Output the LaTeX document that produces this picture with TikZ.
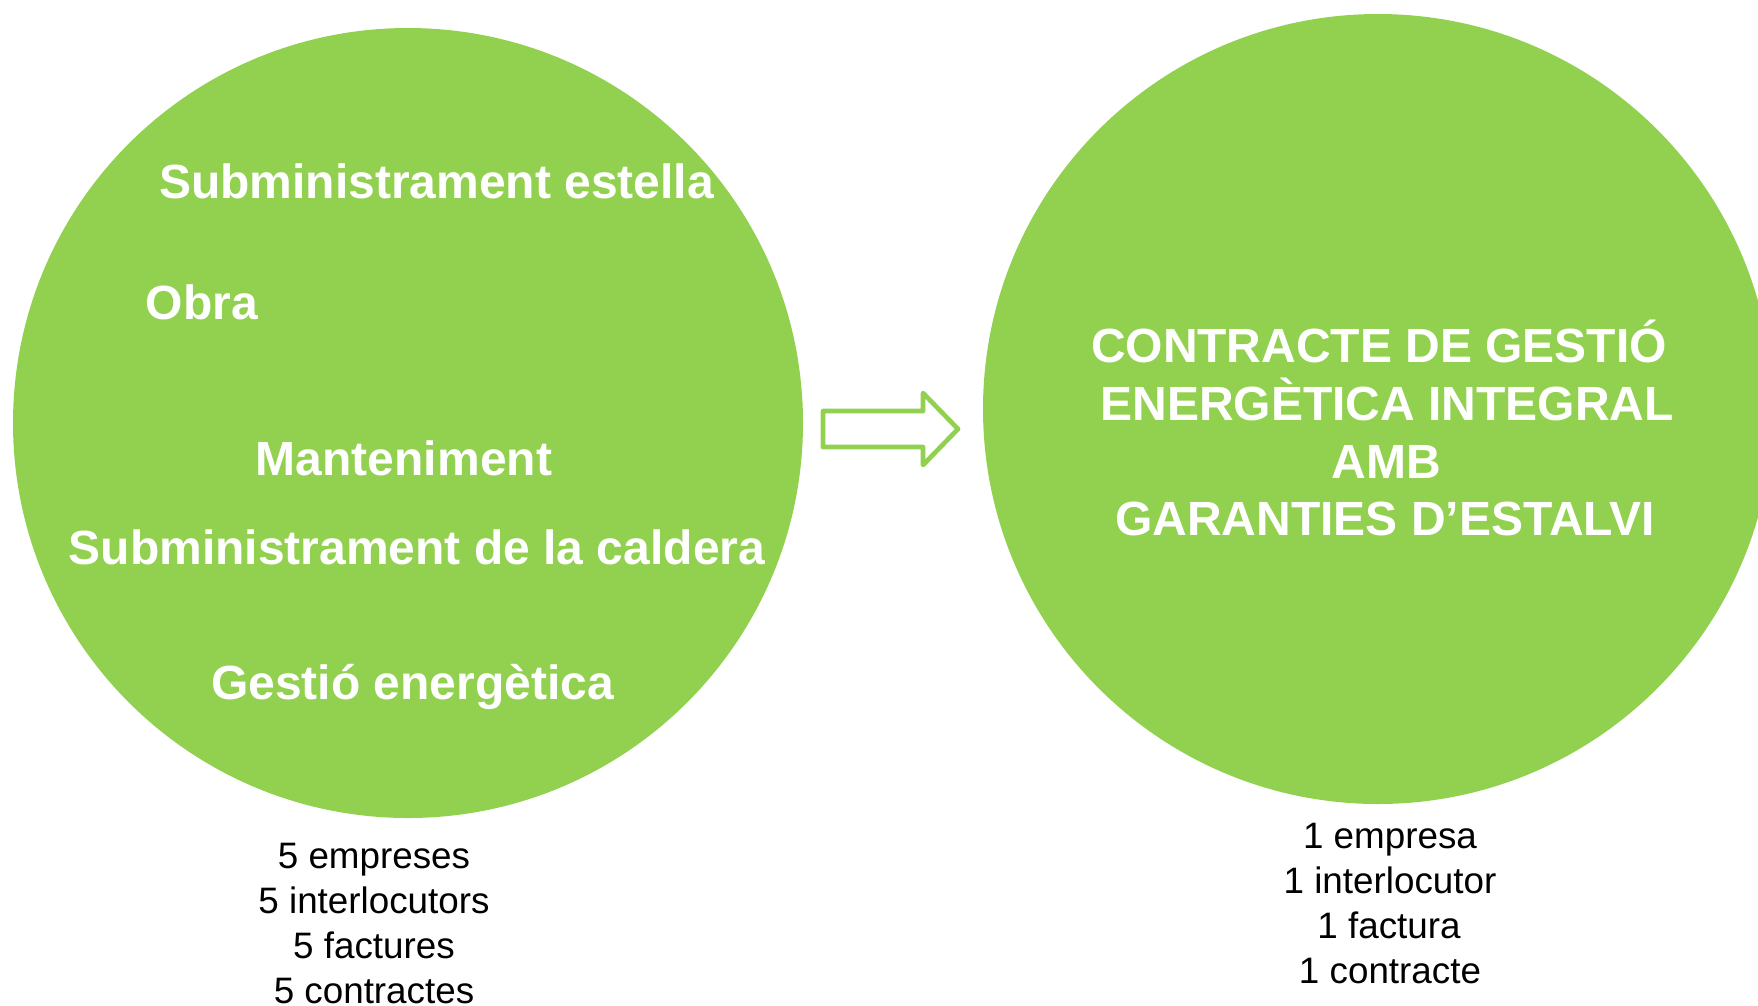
\documentclass[tikz,border=0pt]{standalone}
\usepackage{fontspec}
\setmainfont{Liberation Sans}
\definecolor{lgreen}{HTML}{92D050}
\begin{document}
\begin{tikzpicture}[x=1pt,y=-1pt,
  big/.style={font=\bfseries\fontsize{48}{57.6}\selectfont, text=white, inner sep=0pt, anchor=base},
  small/.style={font=\fontsize{36.8}{45}\selectfont, text=black, inner sep=0pt, anchor=base},
  bubble/.style={circle, fill=lgreen, draw=none, minimum size=790pt, inner sep=0pt},
  arrowshape/.style={draw=lgreen, fill=white, line width=4.7pt, line join=round}]
\useasboundingbox (0,0) rectangle (1758,1005);
\clip (0,0) rectangle (1758,1005);
% circles
\node[bubble] (left) at (408,423) {};
\node[bubble] (right) at (1378,409) {};
% arrow
\coordinate (a1) at (823,411);
\coordinate (a2) at (923,411);
\coordinate (a3) at (923,393);
\coordinate (a4) at (958,429);
\coordinate (a5) at (923,465);
\coordinate (a6) at (923,447);
\coordinate (a7) at (823,447);
\draw[arrowshape] (a1) -- (a2) -- (a3) -- (a4) -- (a5) -- (a6) -- (a7) -- cycle;
% left circle texts
\node[big] (t1) at (436.5,198.5) {Subministrament estella};
\node[big] (t2) at (202,319) {Obra};
\node[big] (t3) at (404,475.5) {Manteniment};
\node[big] (t4) at (417,564.5) {Subministrament de la caldera};
\node[big] (t5) at (412.5,699) {Gestió energètica};
% right circle texts
\node[big] (r1) at (1379,362) {CONTRACTE DE GESTIÓ};
\node[big] (r2) at (1387,420) {ENERGÈTICA INTEGRAL};
\node[big] (r3) at (1386,478) {AMB};
\node[big] (r4) at (1385,535) {GARANTIES D’ESTALVI};
% bottom lists
\node[small] (l1) at (374,868) {5 empreses};
\node[small] (l2) at (374,913) {5 interlocutors};
\node[small] (l3) at (374,958) {5 factures};
\node[small] (l4) at (374,1003) {5 contractes};
\node[small] (m1) at (1390,848) {1 empresa};
\node[small] (m2) at (1390,893) {1 interlocutor};
\node[small] (m3) at (1389,938) {1 factura};
\node[small] (m4) at (1390,983) {1 contracte};
\end{tikzpicture}
\end{document}
